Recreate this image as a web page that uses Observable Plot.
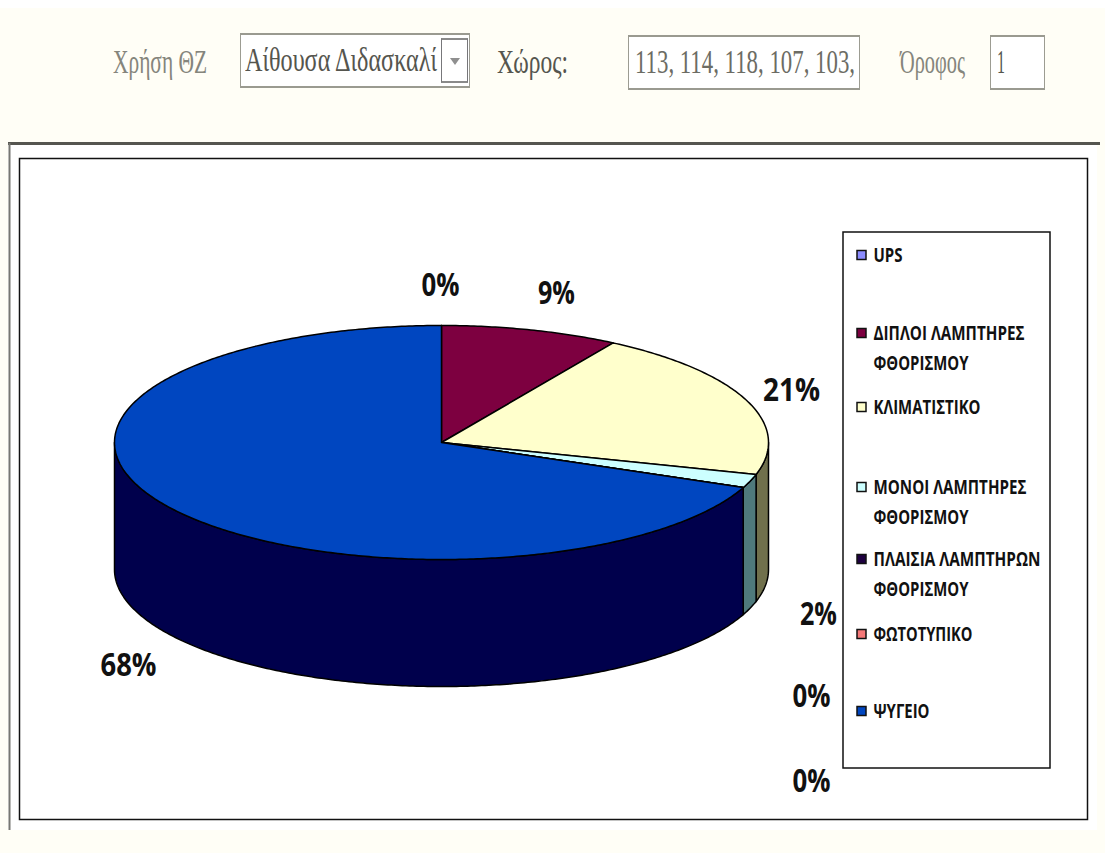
<!DOCTYPE html>
<html lang="el">
<head>
<meta charset="utf-8">
<script src="https://cdn.jsdelivr.net/npm/d3@7"></script>
<script src="https://cdn.jsdelivr.net/npm/@observablehq/plot@0.6"></script>
<style>
html,body{margin:0;padding:0;width:1105px;height:853px;overflow:hidden;background:#fffef6;}
#top{position:relative;height:140px;width:1105px;overflow:hidden;}
#strip{position:absolute;left:0;top:0;width:1105px;height:8px;background:#fff;}
.t{position:absolute;font-family:"Liberation Serif",serif;font-size:33px;line-height:36px;white-space:nowrap;transform-origin:0 50%;}
.b{position:absolute;box-sizing:border-box;background:#fff;border:1px solid #9c9c92;border-top:2px solid #9a9a90;border-bottom:2px solid #9a9a90;}
#plot svg{display:block;}
</style>
</head>
<body>
<div id="top"><div id="strip"></div></div>
<div id="plot"></div>
<script>
// ---- data ----
const categories = ["UPS", "ΔΙΠΛΟΙ ΛΑΜΠΤΗΡΕΣ ΦΘΟΡΙΣΜΟΥ", "ΚΛΙΜΑΤΙΣΤΙΚΟ", "ΜΟΝΟΙ ΛΑΜΠΤΗΡΕΣ ΦΘΟΡΙΣΜΟΥ", "ΠΛΑΙΣΙΑ ΛΑΜΠΤΗΡΩΝ ΦΘΟΡΙΣΜΟΥ", "ΦΩΤΟΤΥΠΙΚΟ", "ΨΥΓΕΙΟ"];
const shares = [0, 8.8, 20.6, 1.9, 0, 0, 68.7];
const percentLabels = ["0%", "9%", "21%", "2%", "0%", "0%", "68%"];
const topColors = ["#8c8cff", "#7d0040", "#ffffcc", "#ccffff", "#1e0040", "#f57878", "#0046c0"];
const sideColors = ["#46467f", "#3f0020", "#70704c", "#4f7a7c", "#0f0020", "#7a3c3c", "#00004c"];
const legendLines = [["UPS"], ["ΔΙΠΛΟΙ ΛΑΜΠΤΗΡΕΣ", "ΦΘΟΡΙΣΜΟΥ"], ["ΚΛΙΜΑΤΙΣΤΙΚΟ"], ["ΜΟΝΟΙ ΛΑΜΠΤΗΡΕΣ", "ΦΘΟΡΙΣΜΟΥ"], ["ΠΛΑΙΣΙΑ ΛΑΜΠΤΗΡΩΝ", "ΦΘΟΡΙΣΜΟΥ"], ["ΦΩΤΟΤΥΠΙΚΟ"], ["ΨΥΓΕΙΟ"]];
const headerLabels = ["Χρήση ΘΖ", "Αίθουσα Διδασκαλί", "Χώρος:", "113, 114, 118, 107, 103,", "Όροφος", "1"];

// ---- layout ----
const W = 1105, H = 853, TOP = 140;
const pie = {cx: 441, cy: 442, rx: 327, ry: 117, depth: 127};
const labelPos = [[440, 285, 38], [556, 293, 37], [791, 390, 57], [818, 614, 37], [811, 696, 38], [811, 781, 38], [128, 665, 56]];
const legendRows = [[255], [333, 363], [407], [487, 517], [559, 589], [634], [711]];
const legendWidths = {"UPS": 29, "ΔΙΠΛΟΙ ΛΑΜΠΤΗΡΕΣ": 151, "ΦΘΟΡΙΣΜΟΥ": 95, "ΚΛΙΜΑΤΙΣΤΙΚΟ": 107, "ΜΟΝΟΙ ΛΑΜΠΤΗΡΕΣ": 153, "ΠΛΑΙΣΙΑ ΛΑΜΠΤΗΡΩΝ": 167, "ΦΩΤΟΤΥΠΙΚΟ": 99, "ΨΥΓΕΙΟ": 56};

// ---- header form, in HTML above the plot ----
const top_ = document.getElementById("top");
function box(x, y, w, h, extra) {
  const d = document.createElement("div");
  d.className = "b";
  d.style.cssText = `left:${x}px;top:${y}px;width:${w}px;height:${h}px;${extra || ""}`;
  top_.appendChild(d);
  return d;
}
box(240, 33, 230, 55);
box(441, 38, 27, 45, "border:1px solid #77777a;border-top:2px solid #8a8a8a;border-bottom:2px solid #8a8a8a;");
box(628, 35, 232, 55);
box(990, 35, 55, 55);
const arrow = document.createElement("div");
arrow.style.cssText = "position:absolute;left:450px;top:58px;width:0;height:0;border-left:5px solid transparent;border-right:5px solid transparent;border-top:7px solid #8f8f8f;";
top_.appendChild(arrow);
[[113, 94, "#85857c"], [245, 192, "#55554e"], [497, 71, "#55554e"], [635, 220, "#6c6c64"], [900, 65, "#85857c"], [997, 8, "#55554e"]].forEach(([x, w, c], i) => {
  const s = document.createElement("div");
  s.className = "t";
  s.textContent = headerLabels[i];
  s.style.left = x + "px";
  s.style.top = (i === 1 ? 42 : 44) + "px";
  s.style.color = c;
  top_.appendChild(s);
  s.style.transform = `scaleX(${w / s.getBoundingClientRect().width})`;
});

// ---- geometry from the shares ----
const rows = [];
const walls = [];
const total = d3.sum(shares);
let acc = 0;
const px = t => pie.cx + pie.rx * Math.sin(t);
const py = t => pie.cy - pie.ry * Math.cos(t);
shares.forEach((v, i) => {
  const a0 = acc / total * 2 * Math.PI;
  acc += v;
  const a1 = acc / total * 2 * Math.PI;
  const n = Math.max(1, Math.ceil((a1 - a0) * 90));
  rows.push({key: i, x: pie.cx, y: pie.cy, c: topColors[i]});
  for (let k = 0; k <= n; k++) {
    const t = a0 + (a1 - a0) * k / n;
    rows.push({key: i, x: px(t), y: py(t), c: topColors[i]});
  }
  const w0 = Math.max(a0, Math.PI / 2), w1 = Math.min(a1, 3 * Math.PI / 2);
  if (w1 > w0) {
    const m = Math.ceil((w1 - w0) * 90);
    const arc = d3.range(m + 1).map(k => w0 + (w1 - w0) * k / m);
    for (const t of arc) walls.push({key: i, x: px(t), y: py(t), c: sideColors[i]});
    for (const t of arc.slice().reverse()) walls.push({key: i, x: px(t), y: py(t) + pie.depth, c: sideColors[i]});
  }
});

const labels = percentLabels.map((text, i) => ({text, x: labelPos[i][0], y: labelPos[i][1], w: labelPos[i][2]}));
const legendSwatches = categories.map((name, i) => ({name, y: legendRows[i][0], c: topColors[i]}));
const legendText = legendLines.flatMap((ls, i) => ls.map((text, j) => ({text, y: legendRows[i][j]})));

const chart = Plot.plot({
  width: W, height: H - TOP,
  margin: 0,
  style: {background: "transparent", overflow: "visible"},
  x: {type: "linear", domain: [0, W], range: [0, W], axis: null},
  y: {type: "linear", domain: [TOP, H], range: [0, H - TOP], axis: null},
  marks: [
    Plot.rect([0], {x1: 8, x2: 1097, y1: 143, y2: 830, fill: "#fff"}),
    Plot.ruleY([143], {x1: 8, x2: 1100, stroke: "#55554f", strokeWidth: 3}),
    Plot.ruleX([9], {y1: 143, y2: 830, stroke: "#777772", strokeWidth: 2}),
    Plot.rect([0], {x1: 19.5, x2: 1087.5, y1: 158.5, y2: 819.5, fill: "#fff", stroke: "#111", strokeWidth: 1.5}),
    Plot.line(walls, {x: "x", y: "y", z: "key", fill: "c", stroke: "#000", strokeWidth: 1.5, curve: "linear-closed"}),
    Plot.line(rows, {x: "x", y: "y", z: "key", fill: "c", stroke: "#000", strokeWidth: 1.5, curve: "linear-closed"}),
    Plot.text(labels, {x: "x", y: "y", text: "text", fontSize: 33, fontWeight: 700, fontFamily: "Open Sans", fill: "#111", className: "pct"}),
    Plot.rect([0], {x1: 843, x2: 1050, y1: 232, y2: 768, fill: "#fff", stroke: "#111", strokeWidth: 1.5}),
    Plot.rect(legendSwatches, {x1: () => 857, x2: () => 866, y1: d => d.y - 4.5, y2: d => d.y + 4.5, fill: "c", stroke: "#111", strokeWidth: 1.5}),
    Plot.text(legendText, {x: () => 873, y: "y", text: "text", textAnchor: "start", fontSize: 19, fontWeight: 700, fontFamily: "Open Sans", fill: "#111", className: "leg"})
  ]
});
document.getElementById("plot").appendChild(chart);

// Fit the narrow lettering of the original
d3.select(chart).selectAll(".pct text").attr("textLength", (d, i) => labels[i].w).attr("lengthAdjust", "spacingAndGlyphs");
d3.select(chart).selectAll(".leg text").attr("textLength", (d, i) => legendWidths[legendText[i].text]).attr("lengthAdjust", "spacingAndGlyphs");
</script>
</body>
</html>
